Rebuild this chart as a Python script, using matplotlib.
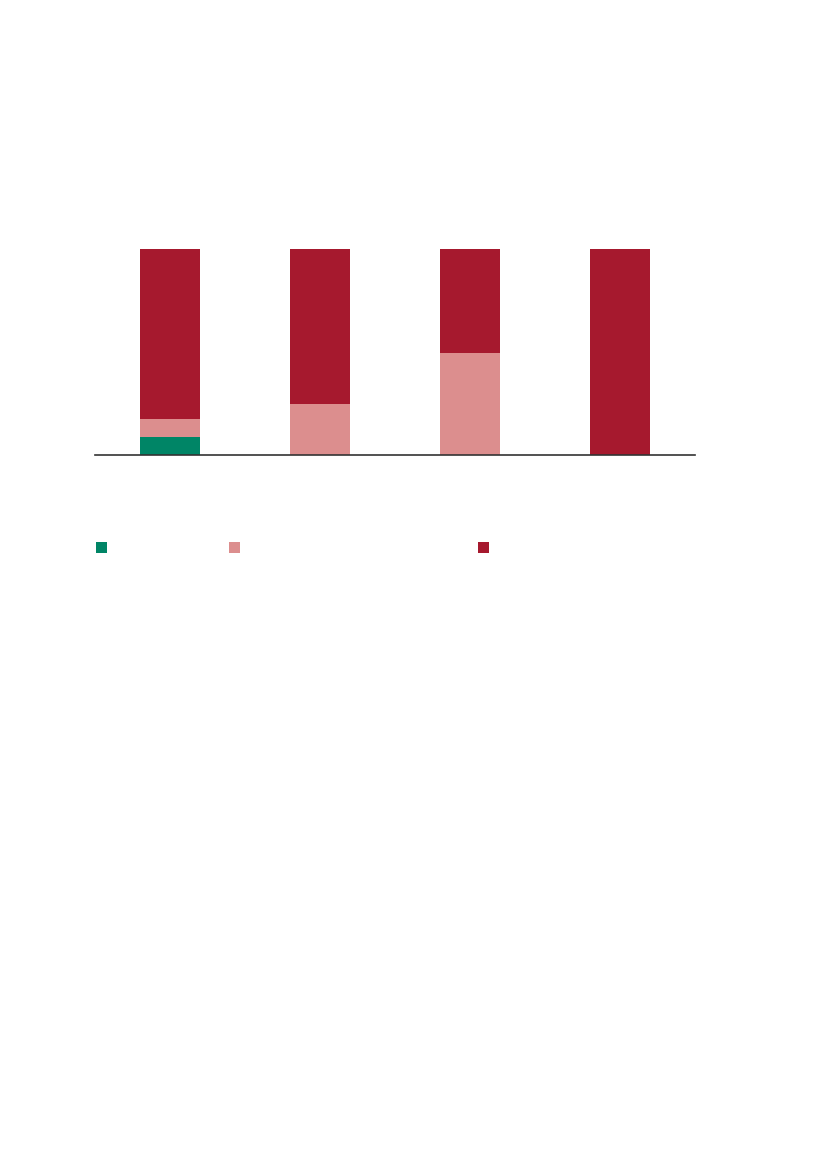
import matplotlib
matplotlib.use("Agg")
import matplotlib.pyplot as plt
from matplotlib.patches import Rectangle
import numpy as np

# 100% stacked shares per bar (no text in the source)
categories = ["", "", "", ""]
green_share = [8.5, 0, 0, 0]
pink_share = [9, 25, 49.5, 0]
red_share = [82.5, 75, 50.5, 100]

colors = {"green": "#008566", "pink": "#DC8E8E", "red": "#A6192E"}

fig = plt.figure(figsize=(8.27, 11.69), dpi=100)
ax = fig.add_axes([95 / 827, 1 - 455 / 1169, (695 - 95) / 827, (455 - 249) / 1169])

x = np.arange(len(categories))
width = 0.4
bottom = np.zeros(len(categories))
for vals, key in [(green_share, "green"), (pink_share, "pink"), (red_share, "red")]:
    vals = np.array(vals, dtype=float)
    ax.bar(x, vals, width, bottom=bottom, color=colors[key], linewidth=0)
    bottom += vals

ax.set_xlim(-0.5, 3.5)
ax.set_ylim(0, 100)
for s in ["top", "right", "left"]:
    ax.spines[s].set_visible(False)
ax.spines["bottom"].set_color("#333333")
ax.spines["bottom"].set_linewidth(1.2)
ax.set_xticks([])
ax.set_yticks([])

# legend swatches (labels are blank in the source)
sw = 11
for px, key in [(96, "green"), (229, "pink"), (478, "red")]:
    fig.add_artist(Rectangle((px / 827, 1 - 553 / 1169), sw / 827, sw / 1169,
                             transform=fig.transFigure, color=colors[key], linewidth=0))

fig.savefig("out.png", dpi=100)
